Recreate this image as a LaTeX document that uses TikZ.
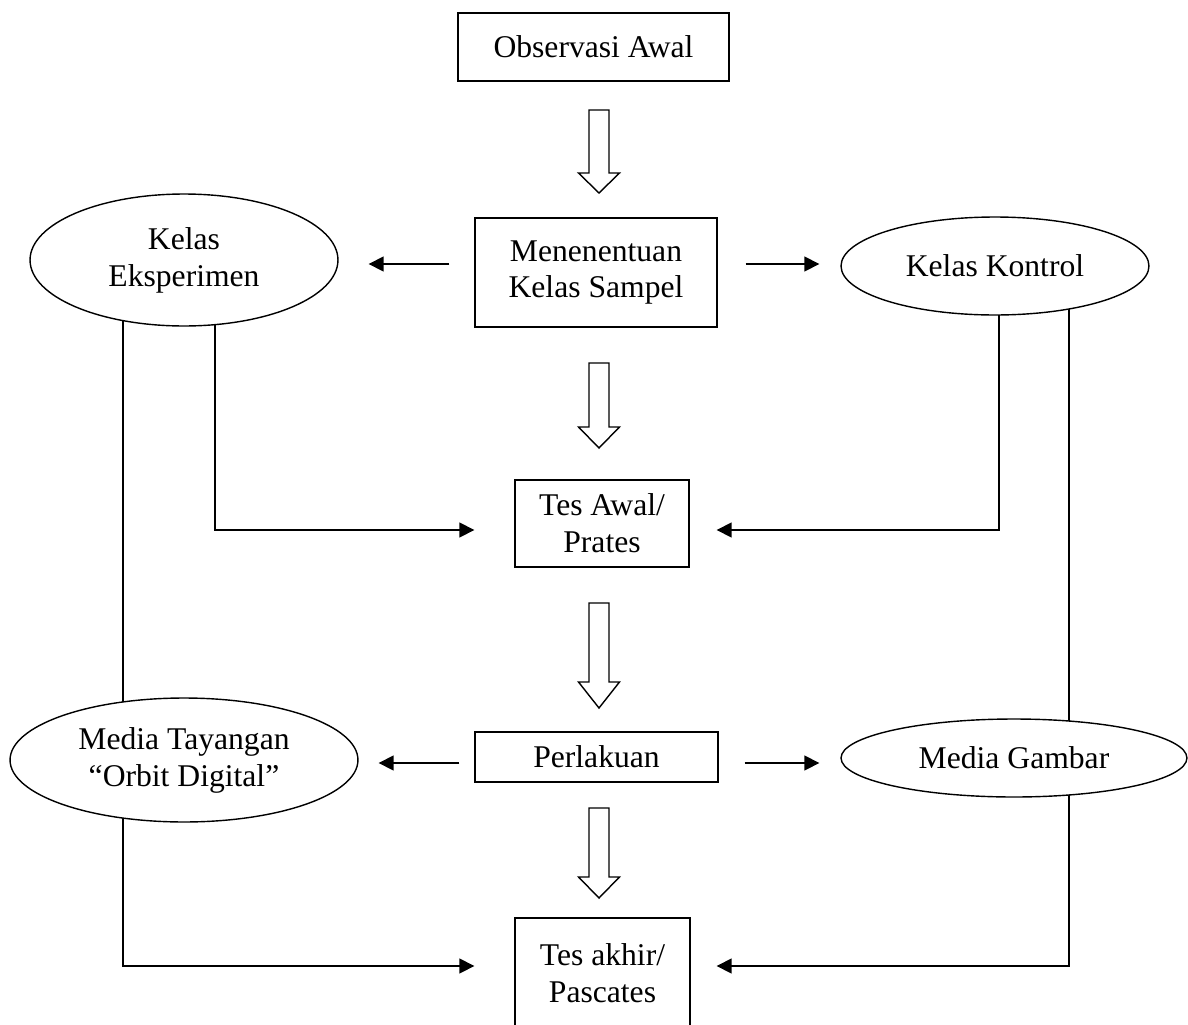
\documentclass[tikz,border=0pt]{standalone}
\usepackage{fontspec}
\setmainfont{Liberation Serif}
\usetikzlibrary{shapes.geometric, arrows.meta, calc, backgrounds}

% hollow block arrow pointing down: top, tip, head length
\newcommand{\hollowdown}[3]{%
  \draw ($(#1)+(-10,0)$) -- ($(#2)+(-10,-#3)$) -- ($(#2)+(-20.5,-#3)$) -- (#2)
     -- ($(#2)+(20.5,-#3)$) -- ($(#2)+(10,-#3)$) -- ($(#1)+(10,0)$) -- cycle;}

\begin{document}
\begin{tikzpicture}[x=0.02cm, y=-0.02cm, line width=0.8pt,
  >={Triangle[length=0.3cm, width=0.3cm]},
  box/.style={draw, inner sep=0pt, align=center, font=\fontsize{18}{21}\selectfont},
  oval/.style={draw, ellipse, fill=white, inner sep=0pt, align=center, font=\fontsize{18}{21}\selectfont},
  link/.style={line width=0.85pt}]

\useasboundingbox (0,0) rectangle (1188,1025);
\clip (0,0) rectangle (1188,1025);

% ============================
% Middle column
% ============================
\node[box, minimum width=5.42cm, minimum height=1.36cm] (obs)       at (593.5,47)  {Observasi Awal};
\node[box, minimum width=4.84cm, minimum height=2.18cm] (sampel)    at (596,272.5) {Menenentuan\\Kelas Sampel};
\node[box, minimum width=3.48cm, minimum height=1.74cm] (awal)      at (602,523.5) {Tes Awal/\\Prates};
\node[box, minimum width=4.86cm, minimum height=1.0cm]  (perlakuan) at (596.5,757) {Perlakuan};
\node[box, minimum width=3.5cm,  minimum height=2.2cm]  (akhir)     at (602.5,973) {Tes akhir/\\Pascates};

% ============================
% Ellipses (left / right)
% ============================
\node[oval, minimum width=6.16cm, minimum height=2.64cm] (eksp)    at (184,260)  {Kelas\\Eksperimen};
\node[oval, minimum width=6.16cm, minimum height=1.96cm] (kontrol) at (995,266)  {Kelas Kontrol};
\node[oval, minimum width=6.96cm, minimum height=2.48cm] (tayang)  at (184,760)  {Media Tayangan\\“Orbit Digital”};
\node[oval, minimum width=6.92cm, minimum height=1.56cm] (gambar)  at (1014,758) {Media Gambar};

% ============================
% Hollow arrows down the middle
% ============================
\coordinate (h1top) at (599,110);
\coordinate (h1tip) at (599,193);
\coordinate (h2top) at (599,363);
\coordinate (h2tip) at (599,448);
\coordinate (h3top) at (599,603);
\coordinate (h3tip) at (599,708);
\coordinate (h4top) at (599,808);
\coordinate (h4tip) at (599,898);

\hollowdown{h1top}{h1tip}{20}
\hollowdown{h2top}{h2tip}{21}
\hollowdown{h3top}{h3tip}{26}
\hollowdown{h4top}{h4tip}{21}

% ============================
% Side arrows
% ============================
\coordinate (row1) at (0,264);
\coordinate (row2) at (0,763);

\draw[->, shorten <=0.5cm,  shorten >=0.6cm]  (sampel.west |- row1) -- (eksp.east |- row1);
\draw[->, shorten <=0.56cm, shorten >=0.42cm] (sampel.east |- row1) -- (kontrol.west |- row1);
\draw[->, shorten <=0.3cm,  shorten >=0.4cm]  (perlakuan.west |- row2) -- (tayang.east |- row2);
\draw[->, shorten <=0.52cm, shorten >=0.42cm] (perlakuan.east |- row2) -- (gambar.west |- row2);

% ============================
% Vertical lines (behind the ellipses)
% ============================
\coordinate (xA) at (123,0);
\coordinate (xB) at (215,0);
\coordinate (xC) at (999,0);
\coordinate (xD) at (1069,0);

\begin{scope}[on background layer]
\draw[link] (eksp.center -| xA) -- (tayang.center -| xA);
\draw[link] (kontrol.center -| xD) -- (gambar.center -| xD);

\draw[link, ->, shorten >=0.8cm]  (eksp.center -| xB)    |- ([yshift=-0.13cm]awal.west);
\draw[link, ->, shorten >=0.54cm] (kontrol.center -| xC) |- ([yshift=-0.13cm]awal.east);

\draw[link, ->, shorten >=0.8cm]  (tayang.center -| xA)  |- ([yshift=0.14cm]akhir.west);
\draw[link, ->, shorten >=0.52cm] (gambar.center -| xD)  |- ([yshift=0.14cm]akhir.east);
\end{scope}

\end{tikzpicture}
\end{document}
